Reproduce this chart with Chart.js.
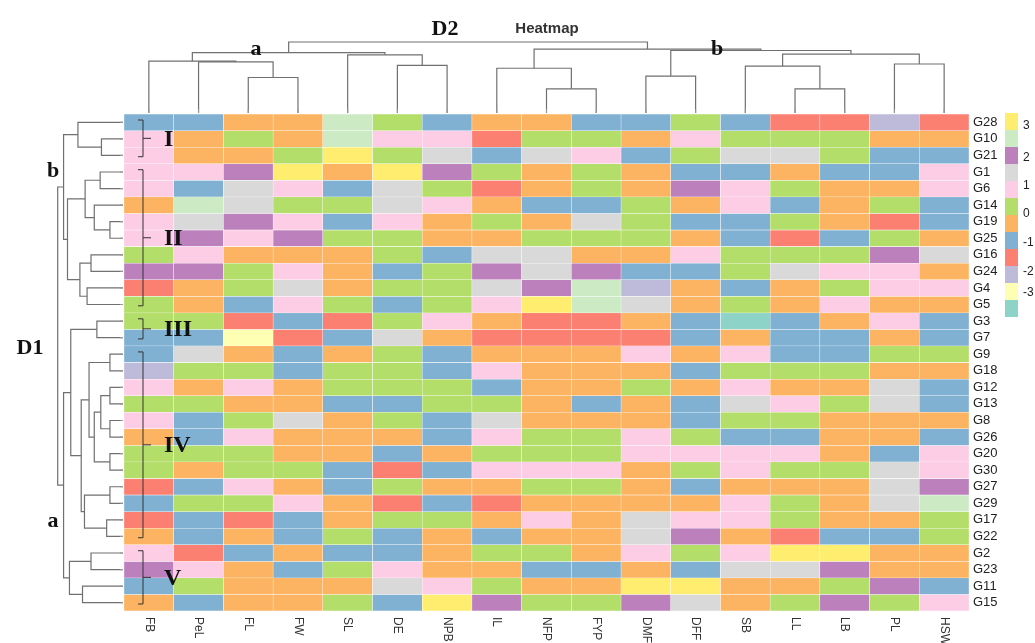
<!DOCTYPE html>
<html>
<head>
<meta charset="utf-8">
<script src="https://cdn.jsdelivr.net/npm/chart.js@4.4.1/dist/chart.umd.min.js"></script>
<style>
  body { margin: 0; background: #fff; }
  #wrap { width: 1035px; height: 643px; }
</style>
</head>
<body>
<div id="wrap"><canvas id="heatmap" width="1035" height="643"></canvas></div>
<script>
// colour levels of the heatmap (Set3 palette)
const Y = 3, LG = 2.5, P = 2, GY = 1.5, K = 1, G = 0.5, O = 0, B = -0.5, R = -1, L = -1.5, LY = -2, T = -2.5;
const levelValues = [3, 2.5, 2, 1.5, 1, 0.5, 0, -0.5, -1, -1.5, -2, -2.5];
const levelColors = ['#ffed6f', '#ccebc5', '#bc80bd', '#d9d9d9', '#fccde5', '#b3de69',
                     '#fdb462', '#80b1d3', '#fb8072', '#bebada', '#ffffb3', '#8dd3c7'];
const legendLabels = ['3', '2', '1', '0', '-1', '-2', '-3'];
const legendLabelPos = [0.75, 2.6, 4.3, 5.95, 7.6, 9.35, 10.55]; // in colour-box units from the top

const traits = ['FB', 'PeL', 'FL', 'FW', 'SL', 'DE', 'NPB', 'IL', 'NFP', 'FYP', 'DMF', 'DFF', 'SB', 'LL', 'LB', 'PL', 'HSW'];
const genotypes = ['G28', 'G10', 'G21', 'G1', 'G6', 'G14', 'G19', 'G25', 'G16', 'G24', 'G4', 'G5', 'G3', 'G7', 'G9',
                   'G18', 'G12', 'G13', 'G8', 'G26', 'G20', 'G30', 'G27', 'G29', 'G17', 'G22', 'G2', 'G23', 'G11', 'G15'];

// one row per genotype, one value per trait
const cellValues = [
  [B, B, O, O, LG, G, B, O, O, B, B, G, B, R, R, L, R],
  [K, O, G, O, LG, K, K, R, G, G, O, K, G, G, G, O, O],
  [K, O, O, G, Y, G, GY, B, GY, K, B, G, GY, GY, G, B, B],
  [K, K, P, Y, O, Y, P, G, O, G, O, B, B, O, B, B, K],
  [K, B, GY, K, B, GY, G, R, O, G, O, P, K, G, O, O, K],
  [O, LG, GY, G, G, GY, K, O, B, B, G, O, K, B, O, G, B],
  [K, GY, P, K, B, K, O, G, O, GY, G, B, B, G, O, R, B],
  [K, P, K, P, G, G, O, O, G, G, G, O, B, R, B, G, O],
  [G, K, O, O, O, G, B, GY, GY, O, O, K, G, G, G, P, GY],
  [P, P, G, K, O, B, G, P, GY, P, B, B, G, GY, K, K, O],
  [R, O, G, GY, O, G, G, GY, P, LG, L, O, B, O, G, K, K],
  [G, O, B, K, G, B, G, K, Y, LG, GY, O, G, O, K, O, O],
  [G, G, R, B, R, G, K, O, R, R, O, B, T, B, O, K, B],
  [B, B, LY, R, B, GY, O, R, R, R, R, B, O, B, B, O, B],
  [B, GY, O, B, O, G, B, O, O, O, K, O, K, B, B, G, G],
  [L, G, G, B, G, G, B, K, O, O, O, B, G, G, G, O, O],
  [K, O, K, O, G, G, G, B, O, O, G, O, K, O, O, GY, B],
  [G, G, O, O, B, B, G, G, O, B, O, B, GY, K, G, GY, B],
  [K, B, G, GY, O, G, B, GY, O, O, O, B, G, G, O, O, O],
  [O, B, K, O, O, O, B, K, G, G, K, G, B, B, O, O, B],
  [G, G, G, O, O, B, O, G, G, G, K, K, K, K, O, B, K],
  [G, O, G, G, B, R, B, K, K, K, O, G, K, G, G, GY, K],
  [R, B, K, O, B, G, O, O, G, G, O, B, O, O, O, GY, P],
  [B, G, G, K, O, R, B, R, O, O, O, O, K, G, O, GY, LG],
  [R, B, R, B, O, G, G, O, K, O, GY, K, K, G, O, O, G],
  [O, B, O, B, G, B, O, B, O, O, GY, P, O, R, B, B, G],
  [K, R, B, O, B, B, O, G, G, O, K, G, K, Y, Y, O, O],
  [P, K, O, B, G, K, O, O, B, B, O, B, GY, GY, P, O, O],
  [B, G, O, O, O, GY, K, G, O, O, Y, Y, O, O, G, P, B],
  [O, B, O, O, G, B, Y, P, G, G, P, GY, O, G, P, G, K]
];

// dendrograms: [height, left, right], leaves are indices
const traitTree = [10,
  [8.5, [7.3, 0, [7.2, 1, [5.0, 2, 3]]], [8.2, 4, [6.7, 5, 6]]],
  [9.0, [6.3, 7, [3.4, 8, 9]], [8.8, [5.2, 10, 11], [8.3, [6.6, 12, [3.4, 13, 14]], [6.9, 15, 16]]]]
];
const genotypeTree = [10,
  [9.1, [6.9, 0, [3.3, 1, 2]],
        [8.5, [5.8, [3.5, 3, 4], [4.4, 5, [2.0, 6, 7]]], [6.6, [4.9, 8, 9], [5.5, 10, 11]]]],
  [9.1, [8.0, [4.0, 12, 13],
              [6.4, [5.2, [2.0, 14, 15], [4.4, [3.4, [2.0, 16, 17], [2.0, 18, 19]], [2.0, 20, 21]]],
                    [5.9, [2.0, 22, 23], [2.5, 24, 25]]]],
        [8.2, [4.9, 26, 27], [6.2, 28, 29]]]
];

// row clusters I..V (first and last row)
const clusterNames = ['I', 'II', 'III', 'IV', 'V'];
const clusterRows = [[0, 2], [3, 11], [12, 13], [14, 25], [26, 29]];

function colorOf(v) {
  return levelColors[levelValues.indexOf(v)];
}

const datasets = genotypes.map((g, i) => ({
  label: g,
  data: traits.map(() => 1),
  backgroundColor: cellValues[i].map(colorOf),
  borderColor: 'rgba(255,255,255,0.85)',
  borderWidth: 0.5,
  borderSkipped: false,
  categoryPercentage: 1,
  barPercentage: 1
}));

function drawTree(ctx, node, leafPos, depthPos, top) {
  if (typeof node === 'number') return { p: leafPos(node), d: depthPos(0) };
  const a = drawTree(ctx, node[1], leafPos, depthPos, top);
  const b = drawTree(ctx, node[2], leafPos, depthPos, top);
  const d = depthPos(node[0]);
  ctx.beginPath();
  if (top) {
    ctx.moveTo(a.p, a.d); ctx.lineTo(a.p, d); ctx.lineTo(b.p, d); ctx.lineTo(b.p, b.d);
  } else {
    ctx.moveTo(a.d, a.p); ctx.lineTo(d, a.p); ctx.lineTo(d, b.p); ctx.lineTo(b.d, b.p);
  }
  ctx.stroke();
  return { p: (a.p + b.p) / 2, d };
}

const decorations = {
  id: 'decorations',
  afterDraw(chart) {
    const ctx = chart.ctx;
    const area = chart.chartArea;
    const xs = chart.scales.x;
    const ys = chart.scales.y;
    const rowMid = i => ys.getPixelForValue(i + 0.5);
    ctx.save();

    // dendrograms
    ctx.strokeStyle = '#707070';
    ctx.lineWidth = 1.2;
    drawTree(ctx, traitTree, i => xs.getPixelForValue(i), h => area.top - 1 - h * 7.1, true);
    drawTree(ctx, genotypeTree, rowMid, h => area.left - 1 - h * 6.53, false);

    // small tick marks
    ctx.strokeStyle = '#999';
    ctx.lineWidth = 1;
    traits.forEach((t, i) => {
      const x = xs.getPixelForValue(i);
      ctx.beginPath(); ctx.moveTo(x, area.top - 5); ctx.lineTo(x, area.top - 1); ctx.stroke();
    });
    genotypes.forEach((g, i) => {
      ctx.beginPath(); ctx.moveTo(area.left - 4, rowMid(i)); ctx.lineTo(area.left - 1, rowMid(i)); ctx.stroke();
    });

    // row labels
    ctx.fillStyle = '#222';
    ctx.font = '13px "Liberation Sans", Arial, sans-serif';
    ctx.textAlign = 'left';
    ctx.textBaseline = 'middle';
    genotypes.forEach((g, i) => ctx.fillText(g, area.right + 4, rowMid(i)));

    // column labels, rotated clockwise
    ctx.font = '12px "Liberation Sans", Arial, sans-serif';
    ctx.fillStyle = '#333';
    traits.forEach((t, i) => {
      ctx.save();
      ctx.translate(xs.getPixelForValue(i), area.bottom + 6);
      ctx.rotate(Math.PI / 2);
      ctx.fillText(t, 0, 0);
      ctx.restore();
    });

    // colour key
    const kx = 1005, ky = 113, kw = 13, kh = 17;
    levelColors.forEach((c, i) => {
      ctx.fillStyle = c;
      ctx.fillRect(kx, ky + i * kh, kw, kh);
    });
    ctx.fillStyle = '#222';
    ctx.font = '12px "Liberation Sans", Arial, sans-serif';
    legendLabels.forEach((t, i) => {
      ctx.fillText(t, kx + 18, ky + legendLabelPos[i] * kh);
    });

    // titles
    ctx.fillStyle = '#333';
    ctx.font = 'bold 15px "Liberation Sans", Arial, sans-serif';
    ctx.textAlign = 'center';
    ctx.fillText('Heatmap', 547, 29);

    ctx.fillStyle = '#111';
    ctx.font = 'bold 22px "Liberation Serif", "Times New Roman", serif';
    ctx.textBaseline = 'alphabetic';
    ctx.fillText('D2', 445, 35);
    ctx.fillText('D1', 30, 354);
    ctx.fillText('a', 256, 55);
    ctx.fillText('b', 717, 55);
    ctx.fillText('b', 53, 177);
    ctx.fillText('a', 53, 527);

    // cluster brackets
    ctx.strokeStyle = '#333';
    ctx.lineWidth = 1;
    ctx.font = 'bold 24px "Liberation Serif", "Times New Roman", serif';
    ctx.textAlign = 'left';
    ctx.textBaseline = 'middle';
    clusterRows.forEach((r, k) => {
      const y1 = ys.getPixelForValue(r[0]) + 6;
      const y2 = ys.getPixelForValue(r[1] + 1) - 7;
      const ym = (y1 + y2) / 2;
      const bx = area.left + 19;
      ctx.beginPath();
      ctx.moveTo(bx - 5, y1); ctx.lineTo(bx, y1); ctx.lineTo(bx, y2); ctx.lineTo(bx - 5, y2);
      ctx.moveTo(bx, ym); ctx.lineTo(bx + 8, ym);
      ctx.stroke();
      ctx.fillText(clusterNames[k], bx + 21, ym + 1);
    });
    ctx.restore();
  }
};

new Chart(document.getElementById('heatmap'), {
  type: 'bar',
  data: { labels: traits, datasets: datasets },
  options: {
    responsive: false,
    animation: false,
    layout: { padding: { left: 124, right: 66, top: 114, bottom: 32 } },
    plugins: { legend: { display: false }, tooltip: { enabled: false } },
    scales: {
      x: { stacked: true, display: false },
      y: { stacked: true, display: false, min: 0, max: 30, reverse: true }
    }
  },
  plugins: [decorations]
});
</script>
</body>
</html>
